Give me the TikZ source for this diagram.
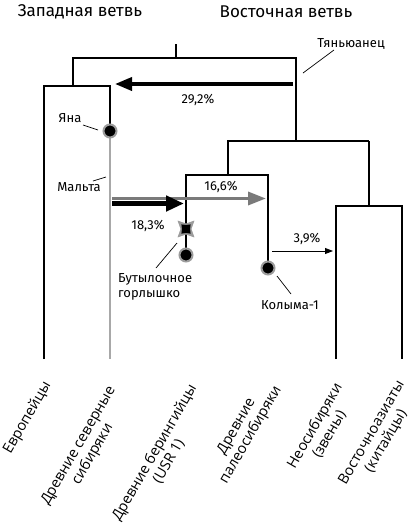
\documentclass[tikz,border=0pt]{standalone}
\usepackage{fontspec}
\setmainfont{Fira Sans}
\newfontfamily\labfont{Open Sans}
\usetikzlibrary{arrows.meta,shapes.geometric,backgrounds}
\definecolor{lgray}{HTML}{A8A8A8}
\definecolor{agray}{HTML}{7A7A7A}
\definecolor{rgray}{HTML}{9C9C9C}
\begin{document}
\begin{tikzpicture}[x=1pt,y=-1pt,
  tree/.style={line width=1.1pt},
  lead/.style={line width=0.7pt},
  txt/.style={font=\fontsize{13}{15}\selectfont, inner sep=0pt},
  head/.style={font=\fontsize{17}{19}\selectfont, inner sep=0pt},
  leaf/.style={font=\labfont\fontsize{14.5}{16.5}\selectfont, rotate=60, align=center, inner sep=0pt},
  dot/.style={circle, fill=black, draw=rgray, line width=2pt, minimum size=13pt, inner sep=0pt},
]
\useasboundingbox (0,0) rectangle (411,531);
% headers
\node[head] (west) at (80,12) {Западная ветвь};
\node[head] (east) at (286,12) {Восточная ветвь};
% tree coordinates
\coordinate (root) at (176,44);
\coordinate (r) at (176,58);
\coordinate (er) at (296,58);
\coordinate (wj) at (73,86);
\coordinate (eu0) at (44,86); \coordinate (eu1) at (44,359);
\coordinate (ns0) at (110,86); \coordinate (ns1) at (110,359);
\coordinate (ej) at (296,141);
\coordinate (pl) at (228,141); \coordinate (pr) at (369,141);
\coordinate (pj) at (228,175);
\coordinate (bl) at (186,175); \coordinate (br) at (268,175);
\coordinate (nj) at (369,206);
\coordinate (nl) at (336,206); \coordinate (nr) at (402,206);
\coordinate (nl1) at (336,359); \coordinate (nr1) at (402,359);
% nodes
\node[dot] (yana) at (110,131) {};
\node[dot] (bott) at (186,255) {};
\node[dot] (kol) at (268,268) {};
\node[star, star points=4, star point ratio=2.2, shape border rotate=45, fill=rgray, minimum size=24pt, inner sep=0pt] (star) at (186,229) {};
\node[star, star points=4, star point ratio=1.6, shape border rotate=45, fill=black, minimum size=13pt, inner sep=0pt] (starc) at (186,229) {};
\begin{pgfonlayer}{background}
\draw[tree] (root) -- (r);
\draw[tree] (wj) |- (er) -- (ej);
\draw[tree] (eu1) -- (eu0) -- (ns0) -- (yana.center);
\draw[lgray, line width=2.4pt] (yana.center) -- (ns1);
\draw[tree] (pr) -- (pl) -- (pj);
\draw[tree] (starc.center) -- (bl) -- (br) -- (kol.center);
\draw[tree] (starc.center) -- (bott.center);
\draw[tree] (pr) -- (nj);
\draw[tree] (nl1) -- (nl) -- (nr) -- (nr1);
\end{pgfonlayer}
% arrows
\coordinate (a1s) at (293,84); \coordinate (a1e) at (115,84);
\draw[line width=3.6pt, -{Triangle[length=17pt,width=13pt]}] (a1s) -- (a1e);
\coordinate (a2s) at (112,198.5); \coordinate (a2e) at (266,198.5);
\draw[agray, line width=3.3pt, -{Triangle[length=18pt,width=13pt]}] (a2s) -- (a2e);
\coordinate (a3s) at (112,203.5); \coordinate (a3e) at (184,203.5);
\draw[line width=5pt, -{Triangle[length=18pt,width=15pt]}] (a3s) -- (a3e);
\coordinate (a4s) at (272,251); \coordinate (a4e) at (333,251);
\draw[line width=0.9pt, -{Triangle[length=8pt,width=6pt]}] (a4s) -- (a4e);
% labels
\node[txt] (p292) at (198,100) {29,2\%};
\node[txt] (p166) at (221,187) {16,6\%};
\node[txt] (p183) at (148,226) {18,3\%};
\node[txt] (p39) at (307,239) {3,9\%};
\node[txt] (tian) at (351,44) {Тяньюанец};
\coordinate (tl1) at (334,50); \coordinate (tl2) at (303,73);
\draw[lead] (tl1) -- (tl2);
\node[txt] (yanal) at (70,118) {Яна};
\coordinate (yl1) at (83,125); \coordinate (yl2) at (98,130);
\draw[lead] (yl1) -- (yl2);
\node[txt] (malta) at (79,187) {Мальта};
\coordinate (ml1) at (93,181); \coordinate (ml2) at (106,177);
\draw[lead] (ml1) -- (ml2);
\node[txt, align=left, anchor=north west] (bottl) at (118,273) {Бутылочное\\горлышко};
\coordinate (bl1) at (156,268); \coordinate (bl2) at (177,243);
\draw[lead] (bl1) -- (bl2);
\node[txt] (koll) at (290,305) {Колыма-1};
\coordinate (kl1) at (277,276); \coordinate (kl2) at (291,294);
\draw[lead] (kl1) -- (kl2);
% leaves
\node[leaf] (l1) at (27.5,418) {Европейцы};
\node[leaf] (l2) at (86,450) {Древние северные\\сибиряки};
\node[leaf] (l3) at (161.5,457) {Древние берингийцы\\(USR 1)};
\node[leaf] (l4) at (244,431) {Древние\\палеосибиряки};
\node[leaf] (l5) at (322,430) {Неосибиряки\\(звены)};
\node[leaf] (l6) at (379,437) {Восточноазиаты\\(китайцы)};
\end{tikzpicture}
\end{document}
